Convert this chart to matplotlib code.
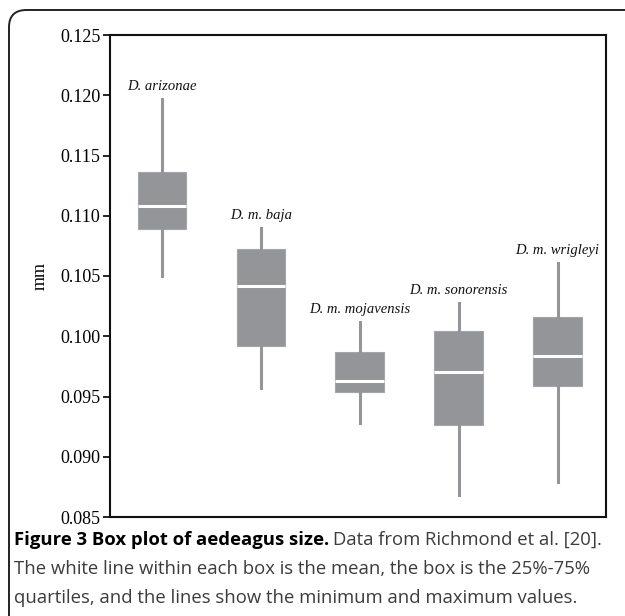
#!/usr/bin/env python3
"""Box plot of aedeagus size (Figure 3 re-draw)."""

import matplotlib
matplotlib.use("Agg")
import matplotlib.pyplot as plt
from matplotlib.patches import FancyBboxPatch

# ── data (mm) ────────────────────────────────────────────────────────────────
species  = ["D. arizonae", "D. m. baja", "D. m. mojavensis",
            "D. m. sonorensis", "D. m. wrigleyi"]
minimum  = [0.1050, 0.0957, 0.0928, 0.0868, 0.0879]
q25      = [0.1089, 0.0992, 0.0954, 0.0926, 0.0959]
mean     = [0.1108, 0.1042, 0.0963, 0.0970, 0.0984]
q75      = [0.1136, 0.1072, 0.0987, 0.1004, 0.1016]
maximum  = [0.1197, 0.1090, 0.1012, 0.1028, 0.1061]
yticks   = [0.085, 0.090, 0.095, 0.100, 0.105, 0.110, 0.115, 0.120, 0.125]

BOX_GRAY = "#939598"
SERIF    = ["Liberation Serif", "DejaVu Serif"]
SANS     = ["Open Sans", "DejaVu Sans"]

fig = plt.figure(figsize=(6.25, 6.16), dpi=100)

# rounded frame (left + top only, the rest falls off the canvas)
frame = FancyBboxPatch((9 / 625, -0.2), 1.2, 0.2 + (616 - 10) / 616,
                       boxstyle="round,pad=0,rounding_size=0.028",
                       transform=fig.transFigure, fill=False,
                       edgecolor="#222222", linewidth=1.4, clip_on=False)
fig.patches.append(frame)

ax = fig.add_axes([110 / 625, 1 - 517 / 616, 496 / 625, 482 / 616])

stats = [
    {"whislo": lo, "q1": a, "med": m, "q3": b, "whishi": hi, "label": name}
    for name, lo, a, m, b, hi in zip(species, minimum, q25, mean, q75, maximum)
]
positions = list(range(1, len(species) + 1))
ax.bxp(stats, positions=positions, widths=0.49, showcaps=False,
       showfliers=False, patch_artist=True,
       boxprops=dict(facecolor=BOX_GRAY, edgecolor="#a3a5a8", linewidth=0.8),
       medianprops=dict(color="white", linewidth=2.2),
       whiskerprops=dict(color=BOX_GRAY, linewidth=2.2))

for x, name, top in zip(positions, species, maximum):
    ax.annotate(name, xy=(x, top), xytext=(0, 4), textcoords="offset points",
                ha="center", va="bottom", fontsize=10.5, fontstyle="italic",
                family=SERIF, color="#111111")

ax.set_xlim(0.476, 5.49)
ax.set_ylim(0.085, 0.125)
ax.set_yticks(yticks)
ax.set_yticklabels([f"{v:.3f}" for v in yticks], family=SERIF, fontsize=13)
ax.set_xticks([])
ax.tick_params(axis="y", direction="out", length=5, width=1.2, pad=2)
for sp in ax.spines.values():
    sp.set_linewidth(1.5)
    sp.set_color("#111111")
ax.set_ylabel("mm", family=SERIF, fontsize=13, labelpad=8)

# ── caption ──────────────────────────────────────────────────────────────────
cap_size = 13.3
t1 = fig.text(14 / 625, 1 - 545 / 616, "Figure 3 Box plot of aedeagus size.",
              family=SANS, fontsize=cap_size, fontweight="bold",
              color="black", va="baseline", ha="left")
fig.canvas.draw()
ax_bb = t1.get_window_extent()
fig.text(ax_bb.x1 / 625 + 4 / 625, 1 - 545 / 616,
         "Data from Richmond et al. [20].",
         family=SANS, fontsize=cap_size, color="#3c3c3c",
         va="baseline", ha="left")
fig.text(14 / 625, 1 - 574 / 616,
         "The white line within each box is the mean, the box is the 25%-75%",
         family=SANS, fontsize=cap_size, color="#3c3c3c",
         va="baseline", ha="left")
fig.text(14 / 625, 1 - 603 / 616,
         "quartiles, and the lines show the minimum and maximum values.",
         family=SANS, fontsize=cap_size, color="#3c3c3c",
         va="baseline", ha="left")

fig.savefig("out.png", dpi=100)
